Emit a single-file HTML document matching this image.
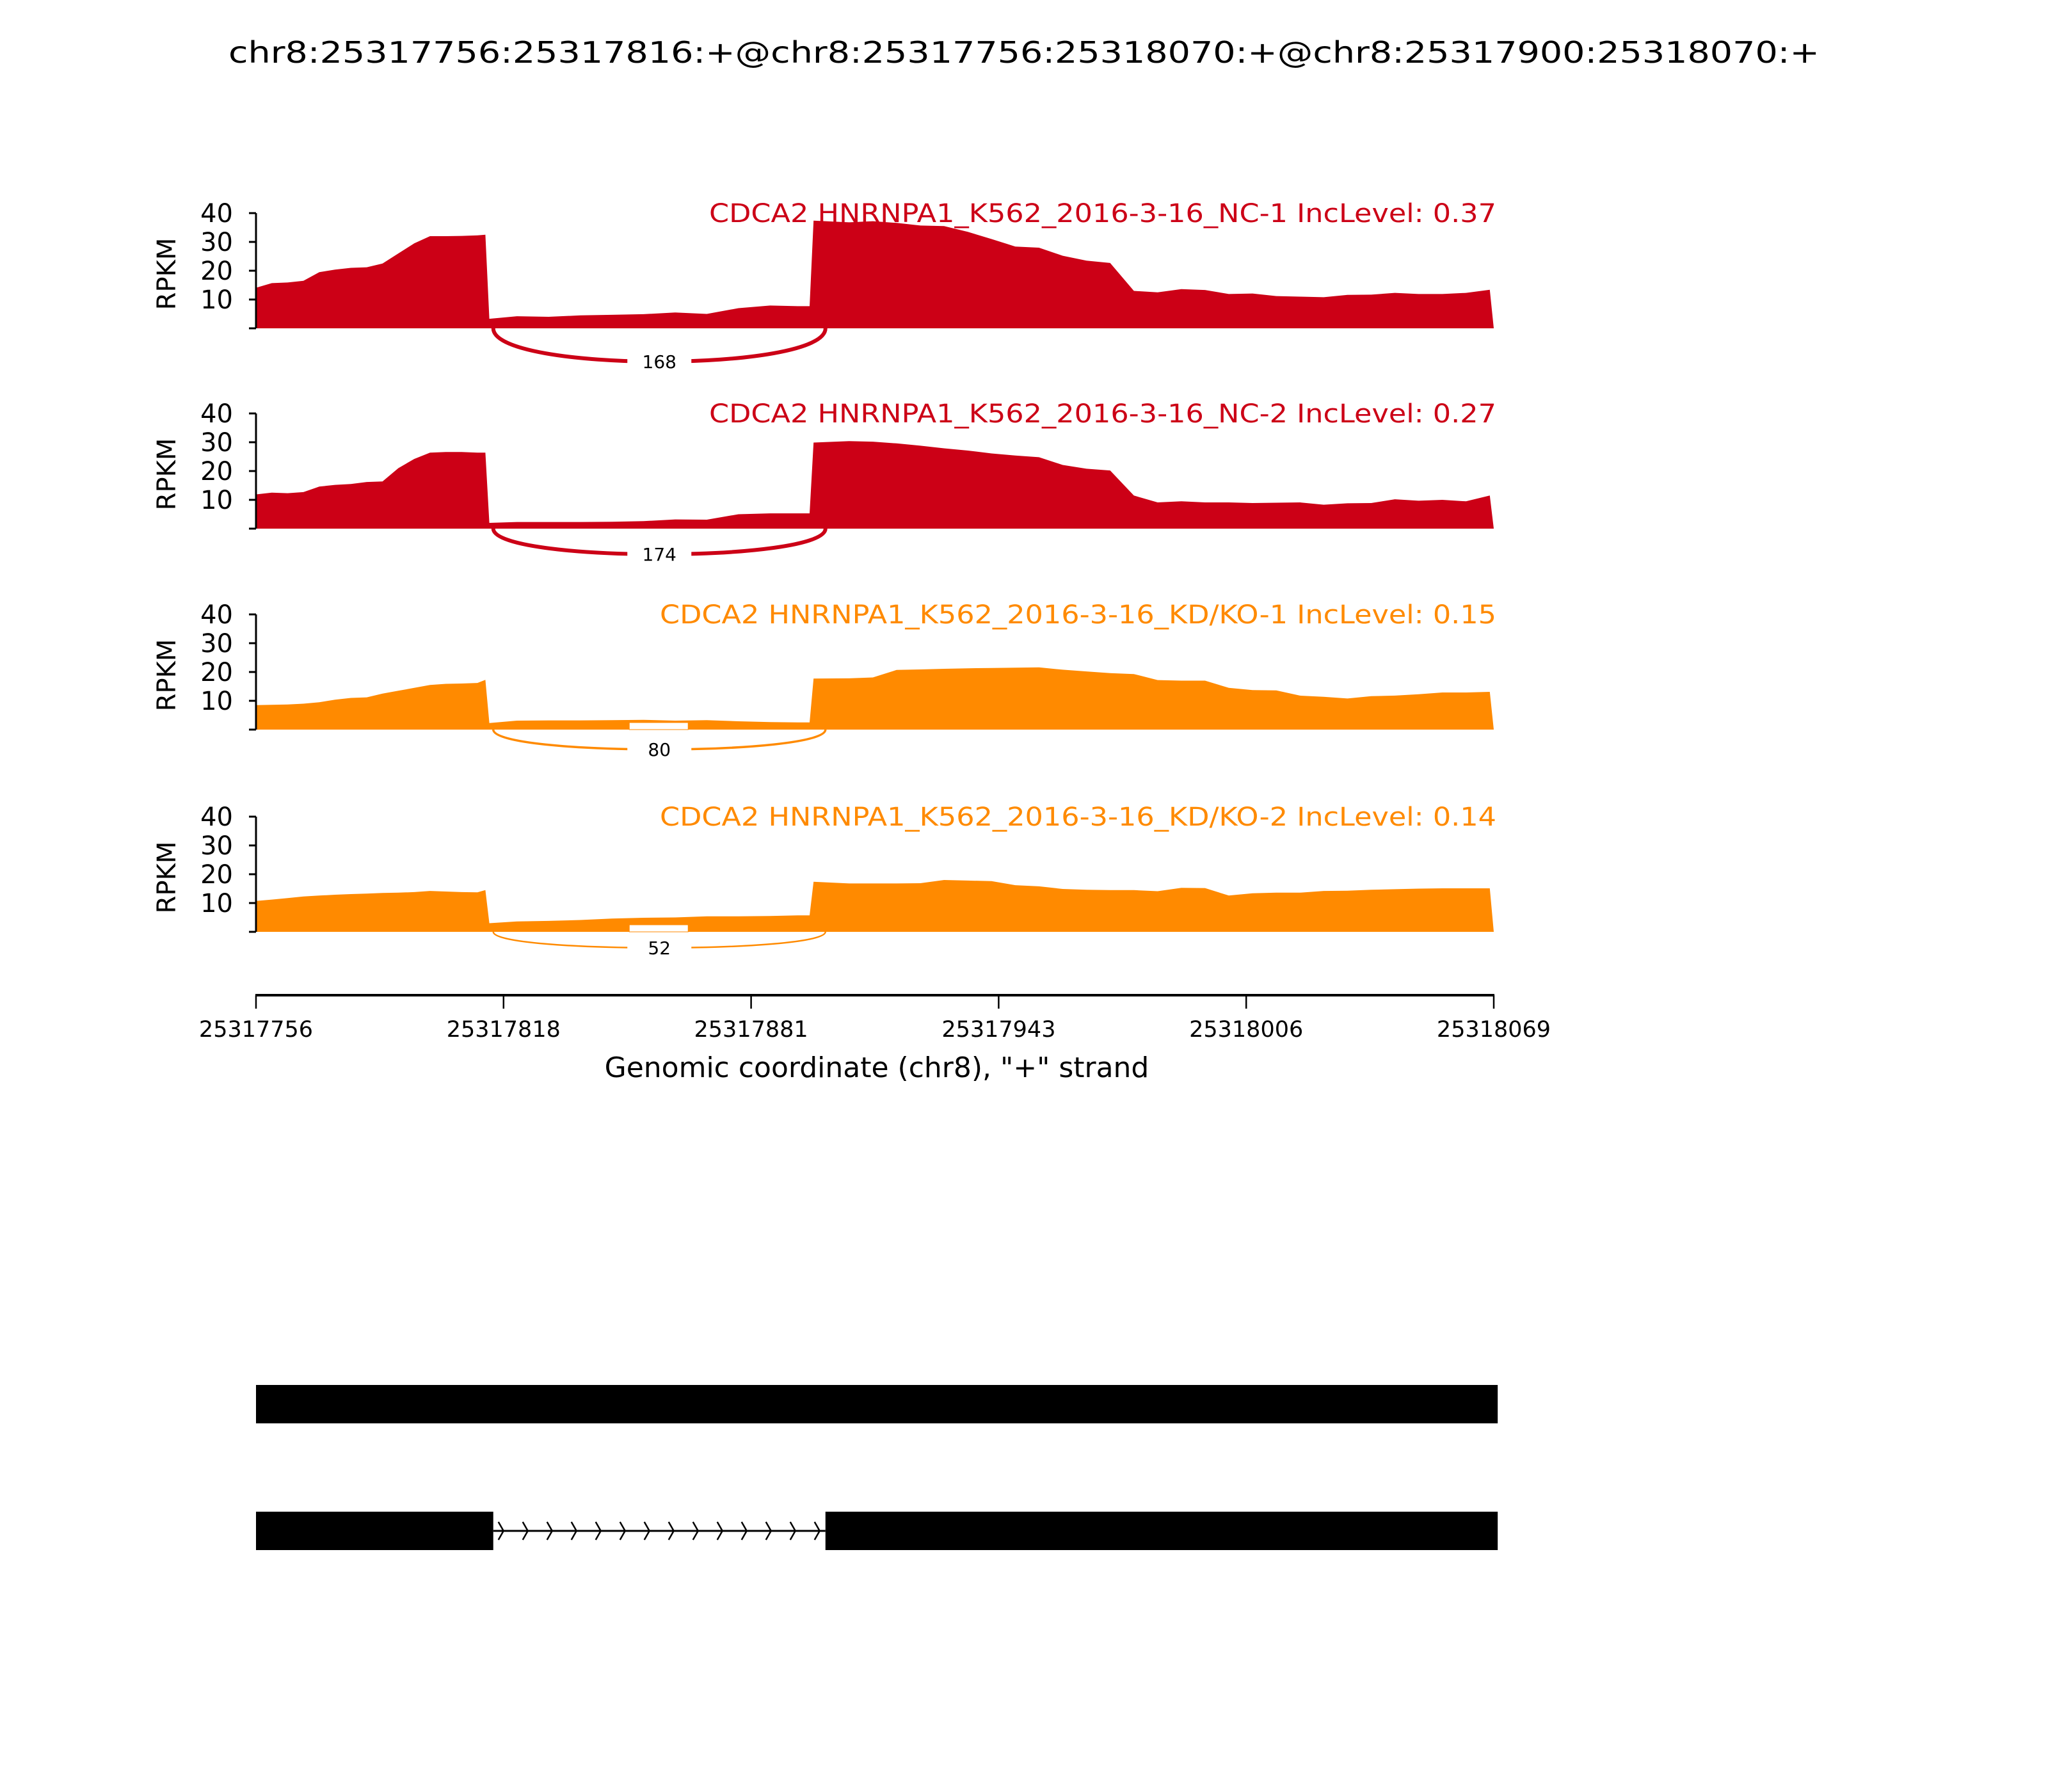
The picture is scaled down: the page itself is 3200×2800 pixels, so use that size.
<!DOCTYPE html>
<html><head><meta charset="utf-8">
<style>
html,body{margin:0;padding:0;background:#fff;}
svg{display:block;font-family:"DejaVu Sans","Liberation Sans",sans-serif;}
</style></head>
<body>
<svg id="chart" width="3200" height="2800" viewBox="0 0 3200 2800" xmlns="http://www.w3.org/2000/svg">
<rect width="3200" height="2800" fill="#fff"/>
<text x="1600" y="98" font-size="46" text-anchor="middle" textLength="2486" lengthAdjust="spacingAndGlyphs">chr8:25317756:25317816:+@chr8:25317756:25318070:+@chr8:25317900:25318070:+</text>
</svg>
<script>
// ---- data ----
const regionStart = 25317756;
const regionEnd = 25318069;
const positions = [0,4,8,12,16,20,24,28,32,36,40,44,48,52,56,58,
  59,66,74,82,90,98,106,114,122,130,137,140,
  141,150,156,162,168,174,180,186,192,198,204,210,216,222,228,234,240,246,252,258,264,270,276,282,288,294,300,306,312];
const nc1 = [14.1,15.7,15.9,16.5,19.5,20.4,21,21.2,22.5,26,29.5,32,32,32.1,32.3,32.5,
  3.3,4.2,4.0,4.5,4.7,4.9,5.5,5.0,7.0,7.9,7.7,7.7,
  37.4,36.8,37.2,36.6,35.7,35.5,33.5,31,28.4,28,25.2,23.5,22.7,13,12.5,13.6,13.3,11.9,12.1,11.2,11.0,10.8,11.6,11.7,12.3,11.9,11.9,12.3,13.4];
const nc2 = [11.9,12.5,12.3,12.7,14.6,15.2,15.5,16.2,16.4,21,24.2,26.4,26.6,26.6,26.4,26.4,
  2.0,2.3,2.3,2.3,2.4,2.6,3.2,3.1,5.0,5.3,5.3,5.3,
  29.9,30.4,30.2,29.6,28.8,27.9,27.1,26.1,25.4,24.8,22.1,20.8,20.2,11.5,9.1,9.5,9.1,9.1,8.9,9.0,9.1,8.3,8.8,8.9,10.2,9.7,10.0,9.5,11.5];
const kd1 = [8.5,8.6,8.7,9.0,9.5,10.4,11,11.2,12.5,13.5,14.5,15.5,15.9,16.0,16.2,17.3,
  2.3,3.1,3.2,3.2,3.3,3.4,3.1,3.3,2.9,2.6,2.5,2.5,
  17.7,17.8,18.1,20.7,20.9,21.1,21.3,21.4,21.5,21.6,20.8,20.2,19.6,19.3,17.2,17,17,14.5,13.7,13.6,11.8,11.4,10.8,11.6,11.8,12.3,12.9,12.9,13.1];
const kd2 = [10.7,11.2,11.7,12.3,12.6,12.9,13.1,13.3,13.5,13.6,13.8,14.2,14.0,13.8,13.7,14.5,
  3.0,3.6,3.8,4.1,4.6,4.9,5.0,5.4,5.4,5.5,5.7,5.7,
  17.4,16.8,16.8,16.8,16.9,18,17.8,17.6,16.2,15.8,14.9,14.6,14.5,14.5,14.1,15.3,15.2,12.6,13.4,13.6,13.6,14.2,14.3,14.6,14.8,15,15.1,15.1,15.1];
const sampleNames = ["CDCA2 HNRNPA1_K562_2016-3-16_NC-1 IncLevel: 0.37","CDCA2 HNRNPA1_K562_2016-3-16_NC-2 IncLevel: 0.27","CDCA2 HNRNPA1_K562_2016-3-16_KD/KO-1 IncLevel: 0.15","CDCA2 HNRNPA1_K562_2016-3-16_KD/KO-2 IncLevel: 0.14"];
const junctionCounts = [168,174,80,52];
const junctionStart = 25317816;
const junctionEnd = 25317900;
const yTicks = [0,10,20,30,40];
const xTickValues = [25317756,25317818.6,25317881.2,25317943.8,25318006.4,25318069];
const xTickLabels = ["25317756","25317818","25317881","25317943","25318006","25318069"];
const exonsTrack1 = [[25317756,25318070]];
const exonsTrack2 = [[25317756,25317816],[25317900,25318070]];

// ---- layout ----
const NS = "http://www.w3.org/2000/svg";
const svg = document.getElementById('chart');
const X0 = 400, X1 = 2334;
const pxPerBp = (X1 - X0) / (regionEnd - regionStart);
function xOff(off){ return X0 + off * pxPerBp; }
function xG(g){ return xOff(g - regionStart); }
const panelBottoms = [513, 826, 1140, 1456];
const panelH = 180;
const colors = ["#cc0016","#cc0016","#ff8a00","#ff8a00"];
const arcDepth = [52, 40, 31, 25];
const arcWidth = [6, 6, 3.5, 2.5];
const titleLen = [1230, 1230, 1307, 1307];
const series = [nc1, nc2, kd1, kd2];
function mk(tag, attrs, parent){
  const e = document.createElementNS(NS, tag);
  for (const k in attrs) e.setAttribute(k, attrs[k]);
  (parent || svg).appendChild(e);
  return e;
}

series.forEach((vals, p) => {
  const y0 = panelBottoms[p];
  const yS = v => y0 - v / 40 * panelH;
  const g = mk('g', {});
  
  
  let d = 'M' + xOff(positions[0]) + ',' + y0;
  positions.forEach((pos, i) => { d += ' L' + xOff(pos).toFixed(1) + ',' + yS(vals[i]).toFixed(1); });
  d += ' L' + xOff(positions[positions.length - 1] + 1).toFixed(1) + ',' + y0 + ' Z';
  const area = mk('path', {d: d, fill: colors[p]}, g);
  
  
  const ax = mk('line', {x1: X0, x2: X0, y1: yS(40), y2: y0, stroke: '#000', 'stroke-width': 3}, g);
  
  
  yTicks.forEach(t => {
    mk('line', {x1: X0 - 11, x2: X0, y1: yS(t), y2: yS(t), stroke: '#000', 'stroke-width': 3}, g);
    if (t > 0) {
      const tl = mk('text', {x: 364, y: yS(t) + 14, 'font-size': 40, 'text-anchor': 'end'}, g);
      tl.textContent = t;
      
      
    }
  });
  const yl = mk('text', {x: 274, y: y0 - panelH / 2 + 5, 'font-size': 40, 'text-anchor': 'middle', transform: 'rotate(-90 274 ' + (y0 - panelH / 2 + 5) + ')'}, g);
  yl.textContent = 'RPKM';
  
  
  const tt = mk('text', {x: 2338, y: y0 - panelH + 14, 'font-size': 40, 'text-anchor': 'end', fill: colors[p], textLength: titleLen[p], lengthAdjust: 'spacingAndGlyphs'}, g);
  tt.textContent = sampleNames[p];
  
  
  const ja = xG(junctionStart), jb = xG(junctionEnd);
  const c = y0 + arcDepth[p] * 1.333;
  const arc = mk('path', {d: 'M' + ja + ',' + y0 + ' C' + ja + ',' + c + ' ' + jb + ',' + c + ' ' + jb + ',' + y0, fill: 'none', stroke: colors[p], 'stroke-width': arcWidth[p]}, g);
  
  
  const mx = (ja + jb) / 2, my = y0 + arcDepth[p];
  if (p >= 2) {
    const bx = mk('rect', {x: mx - 47, y: y0 - 11, width: 92, height: 11, fill: '#fff', stroke: colors[p], 'stroke-width': 1}, g);
    
    
  }
  const lb = mk('rect', {x: mx - 50, y: my - 20, width: 100, height: 40, fill: '#fff'}, g);
  
  
  const jt = mk('text', {x: mx, y: my + 10, 'font-size': 28, 'text-anchor': 'middle'}, g);
  jt.textContent = junctionCounts[p];
  
  
});

const xa = mk('g', {});


mk('line', {x1: X0 - 1, x2: X1 + 1, y1: 1555, y2: 1555, stroke: '#000', 'stroke-width': 4}, xa);
xTickValues.forEach((v, i) => {
  const x = xG(v);
  mk('line', {x1: x, x2: x, y1: 1555, y2: 1576, stroke: '#000', 'stroke-width': 2.5}, xa);
  const t = mk('text', {x: x, y: 1620, 'font-size': 35, 'text-anchor': 'middle'}, xa);
  t.textContent = xTickLabels[i];
  
  
});
const xt = mk('text', {x: 1370, y: 1683, 'font-size': 44, 'text-anchor': 'middle'}, xa);
xt.textContent = 'Genomic coordinate (chr8), "+" strand';



function track(exons, yTop, name){
  const g = mk('g', {});
  
  
  const h = 60, mid = yTop + h / 2;
  for (let i = 0; i < exons.length - 1; i++) {
    const a = xG(exons[i][1]), b = xG(exons[i + 1][0]);
    mk('line', {x1: a, x2: b, y1: mid, y2: mid, stroke: '#000', 'stroke-width': 3}, g);
    for (let cx = a + 12; cx < b; cx += 38) {
      mk('path', {d: 'M' + (cx - 4) + ',' + (mid - 14) + ' L' + (cx + 4) + ',' + mid + ' L' + (cx - 4) + ',' + (mid + 14), fill: 'none', stroke: '#000', 'stroke-width': 2.5}, g);
    }
  }
  exons.forEach(e => {
    const r = mk('rect', {x: xG(e[0]), y: yTop, width: xG(e[1]) - xG(e[0]), height: h, fill: '#000'}, g);
    
    
  });
}
track(exonsTrack1, 2164, 'isoform-track-1');
track(exonsTrack2, 2362, 'isoform-track-2');
</script>
</body></html>
